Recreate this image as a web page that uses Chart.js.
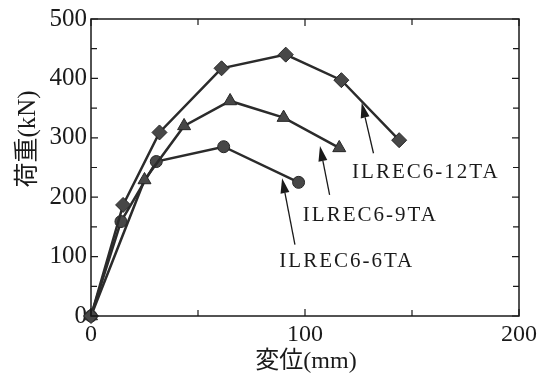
<!DOCTYPE html>
<html>
<head>
<meta charset="utf-8">
<script src="https://cdn.jsdelivr.net/npm/chart.js@4"></script>
<style>
  html, body { margin: 0; padding: 0; background: #fff; }
  #wrap { width: 550px; height: 378px; }
</style>
</head>
<body>
<div id="wrap"><canvas id="chart" width="550" height="378"></canvas></div>
<script>
// load-displacement curves
const seriesNames = ['ILREC6-12TA', 'ILREC6-9TA', 'ILREC6-6TA'];
const disp12 = [0, 15, 32, 61, 91, 117, 144];
const load12 = [0, 187, 309, 417, 440, 397, 296];
const disp9 = [0, 25, 43.5, 65, 90, 116];
const load9 = [0, 229, 320, 362, 334, 283];
const disp6 = [0, 14, 30.5, 62, 97];
const load6 = [0, 159, 260, 285, 225];

const xTickLabels = [0, 100, 200];
const yTickLabels = [0, 100, 200, 300, 400, 500];
const xTitle = '変位(mm)';
const yTitle = '荷重(kN)';

// label anchors (data units): text position, arrow tail, arrow head
const labelPos = [[122, 242], [99, 170], [88, 91]];
const arrowTail = [[132, 274], [111.5, 204], [95.3, 120]];
const arrowHead = [[126.5, 359], [107, 286], [89.3, 232]];

const serif = '"Liberation Serif", "DejaVu Serif", "Noto Sans CJK JP", serif';
const ink = '#1a1a1a';

const toPoints = (xs, ys) => xs.map((x, i) => ({ x: x, y: ys[i] }));

const lineStyle = (label, data, shape, radius) => ({
    label: label,
    data: data,
    showLine: true,
    clip: false,
    borderColor: '#2b2b2b',
    borderWidth: 2.5,
    pointStyle: shape,
    pointRadius: radius,
    pointBackgroundColor: '#474747',
    pointBorderColor: '#262626',
    pointBorderWidth: 1
});

// box, inside ticks (major + minor), axis titles and the labels with arrows
const frame = {
    id: 'frame',
    afterDatasetsDraw(chart) {
        const { ctx, chartArea: a, scales: { x, y } } = chart;
        ctx.save();
        ctx.strokeStyle = ink;
        ctx.lineWidth = 1.5;
        ctx.strokeRect(a.left, a.top, a.right - a.left, a.bottom - a.top);

        ctx.lineWidth = 1.2;
        ctx.beginPath();
        for (let v = 0; v <= 200; v += 50) {
            const px = x.getPixelForValue(v);
            const len = v % 100 === 0 ? 7 : 6;
            ctx.moveTo(px, a.bottom); ctx.lineTo(px, a.bottom - len);
            ctx.moveTo(px, a.top); ctx.lineTo(px, a.top + len);
        }
        for (let v = 0; v <= 500; v += 50) {
            const py = y.getPixelForValue(v);
            const len = v % 100 === 0 ? 7 : 6;
            ctx.moveTo(a.left, py); ctx.lineTo(a.left + len, py);
            ctx.moveTo(a.right, py); ctx.lineTo(a.right - len, py);
        }
        ctx.stroke();

        ctx.fillStyle = ink;
        ctx.textBaseline = 'middle';
        ctx.textAlign = 'center';
        ctx.font = '24px ' + serif;
        ctx.fillText(xTitle, 306, 362);
        ctx.save();
        ctx.translate(28, 139);
        ctx.rotate(-Math.PI / 2);
        ctx.font = '25px ' + serif;
        ctx.fillText(yTitle, 0, 0);
        ctx.restore();

        ctx.font = '21px ' + serif;
        ctx.textAlign = 'left';
        if ('letterSpacing' in ctx) ctx.letterSpacing = '2px';
        seriesNames.forEach((name, i) => {
            ctx.fillText(name, x.getPixelForValue(labelPos[i][0]), y.getPixelForValue(labelPos[i][1]));
        });

        ctx.lineWidth = 1.3;
        arrowTail.forEach((t, i) => {
            const x0 = x.getPixelForValue(t[0]), y0 = y.getPixelForValue(t[1]);
            const x1 = x.getPixelForValue(arrowHead[i][0]), y1 = y.getPixelForValue(arrowHead[i][1]);
            const ang = Math.atan2(y1 - y0, x1 - x0);
            const hl = 15, hw = 4.5;
            const bx = x1 - hl * Math.cos(ang), by = y1 - hl * Math.sin(ang);
            ctx.beginPath();
            ctx.moveTo(x0, y0); ctx.lineTo(bx, by);
            ctx.stroke();
            ctx.beginPath();
            ctx.moveTo(x1, y1);
            ctx.lineTo(bx + hw * Math.sin(ang), by - hw * Math.cos(ang));
            ctx.lineTo(bx - hw * Math.sin(ang), by + hw * Math.cos(ang));
            ctx.closePath();
            ctx.fill();
        });
        ctx.restore();
    }
};

new Chart(document.getElementById('chart'), {
    type: 'scatter',
    data: {
        datasets: [
            lineStyle(seriesNames[0], toPoints(disp12, load12), 'rectRot', 7.5),
            lineStyle(seriesNames[1], toPoints(disp9, load9), 'triangle', 7.5),
            lineStyle(seriesNames[2], toPoints(disp6, load6), 'circle', 6)
        ]
    },
    options: {
        responsive: false,
        animation: false,
        layout: { padding: { top: 19, right: 31, left: 0, bottom: 0 } },
        plugins: {
            legend: { display: false },
            tooltip: { enabled: false }
        },
        scales: {
            x: {
                type: 'linear',
                min: 0,
                max: 200,
                afterFit: (s) => { s.height = 62; },
                afterBuildTicks: (s) => { s.ticks = xTickLabels.map(v => ({ value: v })); },
                grid: { display: false, drawTicks: false },
                border: { display: false },
                ticks: {
                    padding: 4,
                    color: ink,
                    maxRotation: 0,
                    font: { family: serif, size: 24 }
                }
            },
            y: {
                type: 'linear',
                min: 0,
                max: 500,
                afterFit: (s) => { s.width = 91; },
                afterBuildTicks: (s) => { s.ticks = yTickLabels.map(v => ({ value: v })); },
                grid: { display: false, drawTicks: false },
                border: { display: false },
                ticks: {
                    padding: 4,
                    color: ink,
                    font: { family: serif, size: 25 }
                }
            }
        }
    },
    plugins: [frame]
});
</script>
</body>
</html>
